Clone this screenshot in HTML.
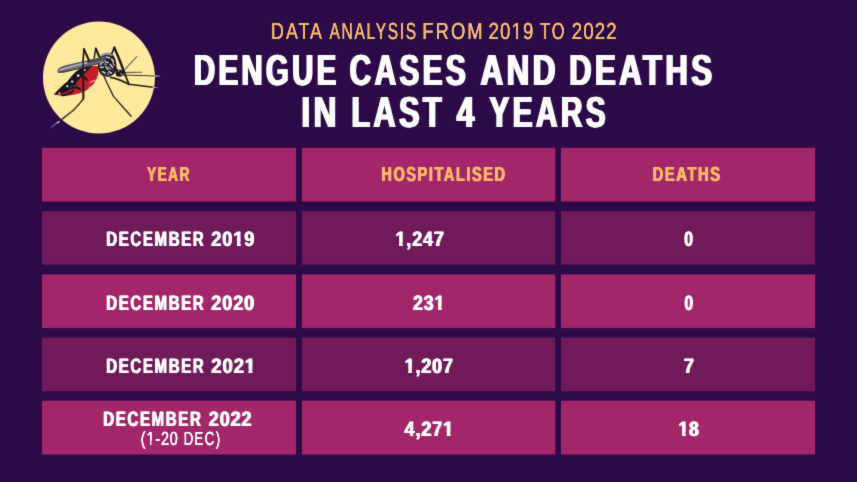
<!DOCTYPE html>
<html lang="en">
<head>
<meta charset="utf-8">
<title>Dengue cases and deaths in last 4 years</title>
<style>
html,body{margin:0;padding:0;}
body{width:857px;height:482px;overflow:hidden;background:#2c0a47;}
#stage{position:relative;width:857px;height:482px;overflow:hidden;background:#2c0a47;font-family:"Liberation Sans",sans-serif;filter:url(#mild);}
#stage svg{position:absolute;left:0;top:0;}
.ln{position:absolute;left:0;top:0;width:857px;text-rendering:geometricPrecision;white-space:nowrap;line-height:1;margin:0;}
.w{position:absolute;left:0;top:0;display:block;line-height:1;transform-origin:0 0;white-space:pre;}
.o{display:inline-block;line-height:1;clip-path:polygon(-0.2000em -0.3000em,0.9000em -0.3000em,0.9000em 0.5965em,0.3966em 0.5965em,0.3966em 1.3000em,0.2074em 1.3000em,0.2074em 0.5965em,-0.2000em 0.5965em);}
.p{display:inline-block;line-height:1;clip-path:polygon(-0.2000em -0.3000em,0.9000em -0.3000em,0.9000em 0.5965em,0.3368em 0.5965em,0.3368em 1.3000em,0.2545em 1.3000em,0.2545em 0.5965em,-0.2000em 0.5965em);}
.b{font-weight:bold;}
.r{font-weight:normal;}
</style>
</head>
<body>
<div id="stage">
<svg width="857" height="482" viewBox="0 0 857 482">
<defs><filter id="mild" x="0" y="0" width="100%" height="100%" color-interpolation-filters="sRGB"><feConvolveMatrix order="3" kernelMatrix="0.012 0.084 0.012 0.084 0.616 0.084 0.012 0.084 0.012" divisor="1" edgeMode="duplicate" preserveAlpha="true"/></filter></defs>
<rect x="42" y="147.8" width="254.00" height="53.70" fill="#a3266a"/>
<rect x="302" y="147.8" width="253.30" height="53.70" fill="#a3266a"/>
<rect x="561" y="147.8" width="254.00" height="53.70" fill="#a3266a"/>
<rect x="42" y="211.2" width="254.00" height="53.40" fill="#701a5a"/>
<rect x="302" y="211.2" width="253.30" height="53.40" fill="#701a5a"/>
<rect x="561" y="211.2" width="254.00" height="53.40" fill="#701a5a"/>
<rect x="42" y="274.4" width="254.00" height="53.60" fill="#a3266a"/>
<rect x="302" y="274.4" width="253.30" height="53.60" fill="#a3266a"/>
<rect x="561" y="274.4" width="254.00" height="53.60" fill="#a3266a"/>
<rect x="42" y="337.6" width="254.00" height="53.70" fill="#701a5a"/>
<rect x="302" y="337.6" width="253.30" height="53.70" fill="#701a5a"/>
<rect x="561" y="337.6" width="254.00" height="53.70" fill="#701a5a"/>
<rect x="42" y="400.7" width="254.00" height="53.80" fill="#a3266a"/>
<rect x="302" y="400.7" width="253.30" height="53.80" fill="#a3266a"/>
<rect x="561" y="400.7" width="254.00" height="53.80" fill="#a3266a"/>
<circle cx="98.95" cy="77.6" r="56" fill="#fee99d"/>
<defs><filter id="soft" x="-10%" y="-10%" width="120%" height="120%"><feGaussianBlur stdDeviation="0.5"/></filter></defs>
<g id="mosquito" fill="none" stroke-linecap="round" stroke-linejoin="round" filter="url(#soft)">
<!-- antennae, palps and proboscis -->
<path d="M121.5 73.2 L129 65 L136.8 56.6" stroke="#7d7660" stroke-width="1.3"/>
<path d="M122 72.6 L132 72.4 L141.7 72.2" stroke="#6a634c" stroke-width="1.1"/>
<path d="M123 75 L140 75.5 L154.5 76" stroke="#3b3626" stroke-width="1.2"/>
<path d="M154.5 76 L157 76.05" stroke="#cfc6ec" stroke-width="1.2"/>
<path d="M157 76.05 L159.8 76.1" stroke="#7767a2" stroke-width="1.1"/>
<!-- far legs -->
<path d="M94.2 58 L95.8 48.5" stroke="#1f1c1c" stroke-width="1.5"/>
<path d="M95.8 48.5 L99.4 57" stroke="#1f1c1c" stroke-width="2.1"/>
<path d="M108.4 61.5 L114.4 47.6" stroke="#1f1c1c" stroke-width="1.8"/>
<path d="M114.4 47.6 L120 61 L124.6 73.5" stroke="#1f1c1c" stroke-width="2.4"/>
<path d="M124.6 73.5 L129 84.3" stroke="#1f1c1c" stroke-width="1.8"/>
<path d="M110.5 77.4 C116 78.4 122.5 80.8 129 84.3 L143 86 L153 87.2" stroke="#262218" stroke-width="1.6"/>
<path d="M153 87.2 L155.6 87.5" stroke="#c4baea" stroke-width="1.2"/>
<path d="M155.6 87.5 L158 87.8" stroke="#6d5d98" stroke-width="1.1"/>
<path d="M102 72 L107.5 84 L113.5 96.4 L122 106 L131.1 116.2" stroke="#2a2620" stroke-width="1.3"/>
<!-- abdomen -->
<path d="M54 94.6 C58 89.5 62.5 85.5 67.5 81.5 C71.5 76.5 75.5 71 81.5 68 C87 66 93 65.6 98.8 66.2 L98.2 74 C96.5 81 92 87.5 84 91.8 C75 95.4 62 97 54 94.6 Z" fill="#c51f2b"/>
<path d="M54 94.6 C58 89.5 62.5 85.5 67.5 81.5 C71.5 76.5 75.5 71 81.5 68 C85 66.8 88 66.2 91.5 66 C88.5 70 85 73.4 81.4 76.6 C78 80.4 75.6 85 72 88.6 C67 92 61 94.6 54 94.6 Z" fill="#17131a"/>
<path d="M62 95.4 C66 95.2 70 93.4 73 91 M72 88.6 C75 87 78 87.2 80 89.4 M81.4 76.6 C84 76.6 86 78 87 80" stroke="#17131a" stroke-width="1.8"/>
<path d="M69.5 88 C71.5 86.4 74 85.4 76 85.6" stroke="#1f4a48" stroke-width="1.6"/>
<circle cx="59.4" cy="93.2" r="0.9" fill="#e6e6ea"/>
<circle cx="67.3" cy="86.2" r="1.1" fill="#e6e6ea"/>
<circle cx="72.2" cy="81.6" r="1.2" fill="#e6e6ea"/>
<circle cx="78.2" cy="75.6" r="1.3" fill="#e6e6ea"/>
<circle cx="84.6" cy="70" r="1.0" fill="#e6e6ea"/>
<path d="M90 82.4 L95.4 80.2 M89 88 L91.4 86.4" stroke="#f6e3b0" stroke-width="0.9"/>
<!-- thorax -->
<path d="M98.6 60.5 C99.5 56 103.5 52.6 108 52.8 C112 53 114.6 56 115.6 60 C116.4 63.5 117 66.5 116.4 69.5 C115.6 73 113 75.6 109.6 76.4 C105.5 77.4 101 75.6 99 71.4 C97.6 68 97.8 63.6 98.6 60.5 Z" fill="#211e24"/>
<path d="M101.5 55.8 C104 53.8 108 53.2 111.5 55" stroke="#9a9aa4" stroke-width="1.8"/>
<path d="M99.6 65 L101.6 64.8 M104.4 64 L106.6 64.2 M108.6 67 L110.4 69.4 M113 63.4 L114.6 65.4 M107.4 73 L108.6 74.4" stroke="#b9b9c4" stroke-width="1.1"/>
<path d="M101 59 L104 57.6 M106.4 57 L109.6 58 M111.6 59 L113.6 62 M100.4 63.4 L103 62.4 M105 61.4 L108 62.6 M110.2 64.6 L112.8 67.4 M100.6 67.6 L103.4 67.2 M105.8 66.4 L107.8 69.4 M102.4 71.6 L105 73 M109 71.6 L111.4 73.2" stroke="#d6d6dc" stroke-width="1.5"/>
<path d="M112 69 L115 71.6 M104 74.6 L108 75.4" stroke="#3b3a55" stroke-width="1.2"/>
<!-- wing -->
<path d="M57.4 71 C57.6 68.4 61 66.4 68 64.8 L102 57.2 C105.4 56.8 107 58.6 105 60.6 L99.5 63.4 L70 71.2 C63 73.4 57.8 73.8 57.4 71 Z" fill="#6c6c75"/>
<path d="M60.5 69.6 C68 67.4 78 64.6 90 61.8" stroke="#a9a9b3" stroke-width="2"/>
<path d="M58.5 72.4 C66 71.6 80 68.4 99.5 63.4" stroke="#34333d" stroke-width="1"/>
<path d="M58.2 69.2 C62 66.6 74 63.8 101 57.6" stroke="#45454f" stroke-width="0.8"/>
<path d="M88 62 L104 58.6" stroke="#4a4a54" stroke-width="2.4"/>
<!-- head -->
<ellipse cx="119.4" cy="73.2" rx="3.8" ry="3.6" fill="#1b181f"/>
<path d="M117.4 71.4 L119.4 70.6 M120.6 73.8 L122 74.6" stroke="#c9c9dc" stroke-width="0.9"/>
<path d="M114.5 68.5 L117 70.5" stroke="#191621" stroke-width="2.4"/>
<!-- near legs (drawn over the body) -->
<path d="M89 60.4 L83.9 49.2" stroke="#1f1c1c" stroke-width="2.1"/>
<path d="M83.9 49.2 L83.1 60.5" stroke="#1f1c1c" stroke-width="1.7"/>
<path d="M83.1 60.5 L83.2 74" stroke="#241a1c" stroke-width="1.4"/>
<path d="M83.2 74 L83.3 86 L83.4 98.6" stroke="#241a1c" stroke-width="2.1"/>
<path d="M83.4 98.6 C81 102 77.5 106 73.6 110 C69 113.8 63.5 118 59 121.6" stroke="#2a2620" stroke-width="1.4" stroke-dasharray="5 1.2"/>
<path d="M59 121.6 L56.6 123.3" stroke="#cfc6ec" stroke-width="1.3"/>
<path d="M56.6 123.3 L51.4 127" stroke="#6d5d98" stroke-width="1.3"/>
<!-- specks near the abdomen tip -->
<circle cx="55.5" cy="85.3" r="0.6" fill="#c9b45e"/>
<circle cx="58.8" cy="86.4" r="0.6" fill="#c9b45e"/>
</g>

</svg>
<div class="ln r" style="font-size:23.19px;height:23.19px;color:#f4bb70"><span class="w" style="transform:translate(271.07px,19.97px) scaleX(0.7689);text-shadow:0.00px 0 0 currentColor,-0.00px 0 0 currentColor;letter-spacing:2.55px;">DATA</span> <span class="w" style="transform:translate(329.52px,19.97px) scaleX(0.6677);text-shadow:0.00px 0 0 currentColor,-0.00px 0 0 currentColor;letter-spacing:2.55px;">ANALYSIS</span> <span class="w" style="transform:translate(422.22px,19.97px) scaleX(0.7960);text-shadow:0.00px 0 0 currentColor,-0.00px 0 0 currentColor;letter-spacing:2.55px;">FROM</span> <span class="w" style="transform:translate(488.57px,19.97px) scaleX(0.8046);text-shadow:0.00px 0 0 currentColor,-0.00px 0 0 currentColor;letter-spacing:1.39px;">20<span class="p">1</span>9</span> <span class="w" style="transform:translate(540.17px,19.97px) scaleX(0.7040);text-shadow:0.00px 0 0 currentColor,-0.00px 0 0 currentColor;letter-spacing:2.55px;">TO</span> <span class="w" style="transform:translate(571.77px,19.97px) scaleX(0.8064);text-shadow:0.00px 0 0 currentColor,-0.00px 0 0 currentColor;letter-spacing:1.39px;">2022</span></div>
<div class="ln b" style="font-size:43.48px;height:43.48px;color:#ffffff"><span class="w" style="transform:translate(193.97px,49.76px) scaleX(0.6782);text-shadow:1.30px 0 0 currentColor,-1.30px 0 0 currentColor;letter-spacing:4.78px;">DENGUE</span> <span class="w" style="transform:translate(349.70px,49.76px) scaleX(0.6867);text-shadow:1.30px 0 0 currentColor,-1.30px 0 0 currentColor;letter-spacing:4.78px;">CASES</span> <span class="w" style="transform:translate(480.46px,49.76px) scaleX(0.7229);text-shadow:1.30px 0 0 currentColor,-1.30px 0 0 currentColor;letter-spacing:4.78px;">AND</span> <span class="w" style="transform:translate(569.11px,49.76px) scaleX(0.7171);text-shadow:1.30px 0 0 currentColor,-1.30px 0 0 currentColor;letter-spacing:4.78px;">DEATHS</span></div>
<div class="ln b" style="font-size:43.48px;height:43.48px;color:#ffffff"><span class="w" style="transform:translate(301.40px,91.76px) scaleX(0.7254);text-shadow:1.30px 0 0 currentColor,-1.30px 0 0 currentColor;letter-spacing:4.78px;">IN</span> <span class="w" style="transform:translate(351.33px,91.76px) scaleX(0.7061);text-shadow:1.30px 0 0 currentColor,-1.30px 0 0 currentColor;letter-spacing:4.78px;">LAST</span> <span class="w" style="transform:translate(456.77px,91.76px) scaleX(0.7229);text-shadow:1.30px 0 0 currentColor,-1.30px 0 0 currentColor;">4</span> <span class="w" style="transform:translate(489.30px,91.76px) scaleX(0.6891);text-shadow:1.30px 0 0 currentColor,-1.30px 0 0 currentColor;letter-spacing:4.78px;">YEARS</span></div>
<div class="ln b" style="font-size:20.29px;height:20.29px;color:#feb967"><span class="w" style="transform:translate(147.04px,165.42px) scaleX(0.6719);text-shadow:0.61px 0 0 currentColor,-0.61px 0 0 currentColor;letter-spacing:2.23px;">YEAR</span></div>
<div class="ln b" style="font-size:20.29px;height:20.29px;color:#feb967"><span class="w" style="transform:translate(381.39px,165.39px) scaleX(0.7149);text-shadow:0.61px 0 0 currentColor,-0.61px 0 0 currentColor;letter-spacing:2.23px;">HOSPITALISED</span></div>
<div class="ln b" style="font-size:20.29px;height:20.29px;color:#feb967"><span class="w" style="transform:translate(652.58px,165.39px) scaleX(0.7255);text-shadow:0.61px 0 0 currentColor,-0.61px 0 0 currentColor;letter-spacing:2.23px;">DEATHS</span></div>
<div class="ln b" style="font-size:20.87px;height:20.87px;color:#ffffff"><span class="w" style="transform:translate(106.27px,229.90px) scaleX(0.7189);text-shadow:0.63px 0 0 currentColor,-0.63px 0 0 currentColor;letter-spacing:2.30px;">DECEMBER</span> <span class="w" style="transform:translate(211.31px,229.90px) scaleX(0.8692);text-shadow:0.63px 0 0 currentColor,-0.63px 0 0 currentColor;letter-spacing:1.04px;">20<span class="o">1</span>9</span></div>
<div class="ln b" style="font-size:20.87px;height:20.87px;color:#ffffff"><span class="w" style="transform:translate(395.48px,229.90px) scaleX(0.8571);text-shadow:0.63px 0 0 currentColor,-0.63px 0 0 currentColor;letter-spacing:1.04px;"><span class="o">1</span>,247</span></div>
<div class="ln b" style="font-size:20.87px;height:20.87px;color:#ffffff"><span class="w" style="transform:translate(684.34px,229.90px) scaleX(0.7523);text-shadow:0.63px 0 0 currentColor,-0.63px 0 0 currentColor;">0</span></div>
<div class="ln b" style="font-size:20.87px;height:20.87px;color:#ffffff"><span class="w" style="transform:translate(106.27px,293.91px) scaleX(0.7189);text-shadow:0.63px 0 0 currentColor,-0.63px 0 0 currentColor;letter-spacing:2.30px;">DECEMBER</span> <span class="w" style="transform:translate(211.31px,293.91px) scaleX(0.8649);text-shadow:0.63px 0 0 currentColor,-0.63px 0 0 currentColor;letter-spacing:1.04px;">2020</span></div>
<div class="ln b" style="font-size:20.87px;height:20.87px;color:#ffffff"><span class="w" style="transform:translate(413.01px,293.91px) scaleX(0.8499);text-shadow:0.63px 0 0 currentColor,-0.63px 0 0 currentColor;letter-spacing:1.04px;">23<span class="o">1</span></span></div>
<div class="ln b" style="font-size:20.87px;height:20.87px;color:#ffffff"><span class="w" style="transform:translate(684.55px,293.91px) scaleX(0.7344);text-shadow:0.63px 0 0 currentColor,-0.63px 0 0 currentColor;">0</span></div>
<div class="ln b" style="font-size:20.87px;height:20.87px;color:#ffffff"><span class="w" style="transform:translate(106.27px,356.90px) scaleX(0.7189);text-shadow:0.63px 0 0 currentColor,-0.63px 0 0 currentColor;letter-spacing:2.30px;">DECEMBER</span> <span class="w" style="transform:translate(211.31px,356.90px) scaleX(0.8856);text-shadow:0.63px 0 0 currentColor,-0.63px 0 0 currentColor;letter-spacing:1.04px;">202<span class="o">1</span></span></div>
<div class="ln b" style="font-size:20.87px;height:20.87px;color:#ffffff"><span class="w" style="transform:translate(404.79px,356.90px) scaleX(0.8517);text-shadow:0.63px 0 0 currentColor,-0.63px 0 0 currentColor;letter-spacing:1.04px;"><span class="o">1</span>,207</span></div>
<div class="ln b" style="font-size:20.87px;height:20.87px;color:#ffffff"><span class="w" style="transform:translate(683.73px,356.90px) scaleX(0.8762);text-shadow:0.63px 0 0 currentColor,-0.63px 0 0 currentColor;">7</span></div>
<div class="ln b" style="font-size:20.87px;height:20.87px;color:#ffffff"><span class="w" style="transform:translate(103.27px,409.91px) scaleX(0.7197);text-shadow:0.63px 0 0 currentColor,-0.63px 0 0 currentColor;letter-spacing:2.30px;">DECEMBER</span> <span class="w" style="transform:translate(208.81px,409.91px) scaleX(0.8629);text-shadow:0.63px 0 0 currentColor,-0.63px 0 0 currentColor;letter-spacing:1.04px;">2022</span></div>
<div class="ln r" style="font-size:18.99px;height:18.99px;color:#ffffff"><span class="w" style="transform:translate(140.73px,429.54px) scaleX(0.7598);text-shadow:0.00px 0 0 currentColor,-0.00px 0 0 currentColor;letter-spacing:1.14px;">(<span class="p">1</span>-20</span> <span class="w" style="transform:translate(183.76px,429.54px) scaleX(0.6876);text-shadow:0.00px 0 0 currentColor,-0.00px 0 0 currentColor;letter-spacing:2.09px;">DEC)</span></div>
<div class="ln b" style="font-size:20.87px;height:20.87px;color:#ffffff"><span class="w" style="transform:translate(404.57px,419.91px) scaleX(0.8621);text-shadow:0.63px 0 0 currentColor,-0.63px 0 0 currentColor;letter-spacing:1.04px;">4,27<span class="o">1</span></span></div>
<div class="ln b" style="font-size:20.87px;height:20.87px;color:#ffffff"><span class="w" style="transform:translate(678.61px,419.91px) scaleX(0.8300);text-shadow:0.63px 0 0 currentColor,-0.63px 0 0 currentColor;letter-spacing:1.04px;"><span class="o">1</span>8</span></div>
</div>
</body>
</html>
